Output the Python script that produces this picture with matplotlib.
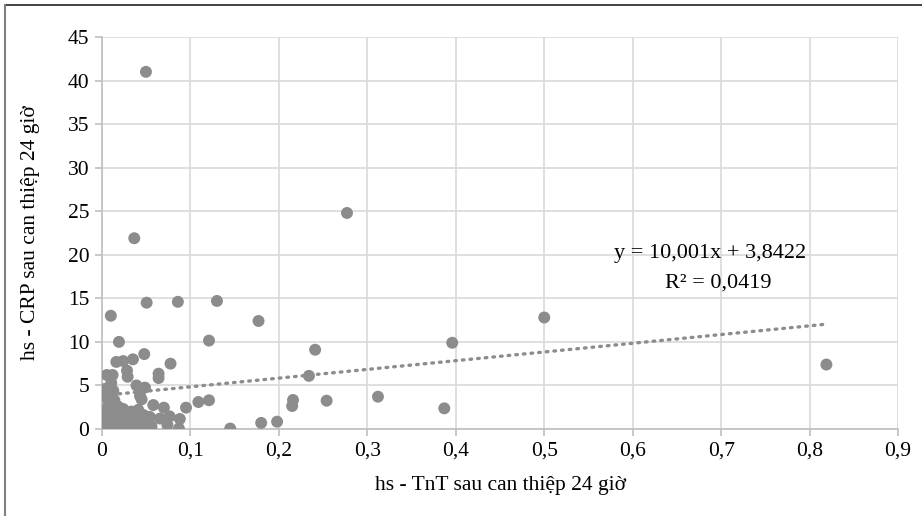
import numpy as np
import matplotlib
matplotlib.use('Agg')
import matplotlib.pyplot as plt
from matplotlib.ticker import FuncFormatter, MultipleLocator
from matplotlib.lines import Line2D

plt.rcParams['font.family'] = ['Liberation Serif', 'DejaVu Serif']

# hs-TnT (x) and hs-CRP (y)
tnt_spread = [0.0497, 0.0365, 0.277, 0.500, 0.819, 0.396, 0.387, 0.312, 0.254, 0.241,
              0.234, 0.216, 0.215, 0.198, 0.180, 0.145, 0.177, 0.130, 0.121, 0.121,
              0.109, 0.0858, 0.0505, 0.0100, 0.0192, 0.0478, 0.0775, 0.0162, 0.0240, 0.0350,
              0.0283, 0.0290, 0.0640, 0.0640, 0.0055, 0.0120, 0.0105, 0.039, 0.0486, 0.0430,
              0.0448, 0.0034, 0.0128, 0.0055, 0.0140, 0.058, 0.070, 0.0950, 0.088, 0.0765,
              0.0655, 0.074, 0.087]
crp_spread = [41.0, 21.9, 24.8, 12.8, 7.4, 9.9, 2.37, 3.71, 3.25, 9.1,
              6.1, 3.33, 2.64, 0.84, 0.7, 0.05, 12.4, 14.7, 10.15, 3.3,
              3.1, 14.6, 14.5, 13.0, 10.0, 8.6, 7.5, 7.7, 7.8, 8.0,
              6.7, 6.0, 6.35, 5.85, 6.2, 6.2, 5.3, 5.0, 4.75, 3.8,
              3.4, 4.6, 4.4, 3.6, 3.3, 2.75, 2.45, 2.45, 1.15, 1.45,
              1.2, 0.46, 0.05]

# dense group close to the origin
tnt_cluster = [0.002, 0.004, 0.006, 0.003, 0.008, 0.009, 0.010, 0.012, 0.013, 0.015,
               0.016, 0.017, 0.019, 0.020, 0.021, 0.023, 0.024, 0.025, 0.027, 0.028,
               0.030, 0.031, 0.033, 0.034, 0.036, 0.037, 0.039, 0.040, 0.042, 0.044,
               0.045, 0.047, 0.048, 0.050, 0.052, 0.054, 0.056, 0.041, 0.018, 0.007]
crp_cluster = [2.0, 1.4, 0.8, 0.5, 2.2, 1.1, 0.3, 1.7, 0.7, 2.4,
               1.2, 0.4, 1.9, 0.9, 0.2, 1.5, 2.3, 0.6, 1.1, 1.8,
               0.4, 1.4, 2.0, 0.8, 1.2, 0.1, 1.7, 0.6, 1.3, 0.3,
               0.9, 1.6, 0.5, 1.1, 0.7, 1.4, 0.3, 2.2, 2.6, 2.7]

slope = 10.001
intercept = 3.8422
r2 = 0.0419

x = np.array(tnt_spread + tnt_cluster)
y = np.array(crp_spread + crp_cluster)

def vn(v):
    return ('%g' % v).replace('.', ',')

fig = plt.figure(figsize=(9.22, 5.16), dpi=100)
ax = fig.add_axes([0.1106, 0.1686, 0.8634, 0.7597])

ax.scatter(x, y, s=74, color='#8c8c8c', edgecolors='none', zorder=3)

xt = np.array([x.min(), x.max()])
ax.plot(xt, slope * xt + intercept, color='#8c8c8c', lw=2.4,
        linestyle=(0, (0.5, 1.8)), dash_capstyle='round', zorder=2)

ax.set_xlim(0, 0.9)
ax.set_ylim(0, 45)
ax.xaxis.set_major_locator(MultipleLocator(0.1))
ax.yaxis.set_major_locator(MultipleLocator(5))
comma = FuncFormatter(lambda v, p: vn(round(v, 2)))
ax.xaxis.set_major_formatter(comma)
ax.yaxis.set_major_formatter(comma)

ax.grid(True, color='#d9d9d9', lw=1.2, zorder=0)
ax.set_axisbelow(True)
for s in ['top', 'right']:
    ax.spines[s].set_visible(False)
for s in ['left', 'bottom']:
    ax.spines[s].set_color('#bfbfbf')
    ax.spines[s].set_linewidth(1.2)
ax.tick_params(axis='both', direction='out', length=5, width=1.2, color='#bfbfbf',
               labelsize=15.5, pad=4)

ax.set_xlabel('hs - TnT sau can thiệp 24 giờ', fontsize=15.5, labelpad=11)
ax.set_ylabel('hs - CRP sau can thiệp 24 giờ', fontsize=15.5, labelpad=20)

ax.text(0.687, 20.1, 'y = %sx + %s' % (vn(slope), vn(intercept)),
        ha='center', va='center', fontsize=16)
ax.text(0.697, 16.8, 'R² = ' + vn(r2), ha='center', va='center', fontsize=16)

# outer frame of the original picture (top and left edges only)
fig.add_artist(Line2D([5 / 922, 1], [1 - 5 / 516, 1 - 5 / 516], color='#222222', lw=1.2,
                      transform=fig.transFigure))
fig.add_artist(Line2D([5 / 922, 5 / 922], [0, 1 - 5 / 516], color='#808080', lw=1.5,
                      transform=fig.transFigure))

fig.savefig('out.png', dpi=100)
